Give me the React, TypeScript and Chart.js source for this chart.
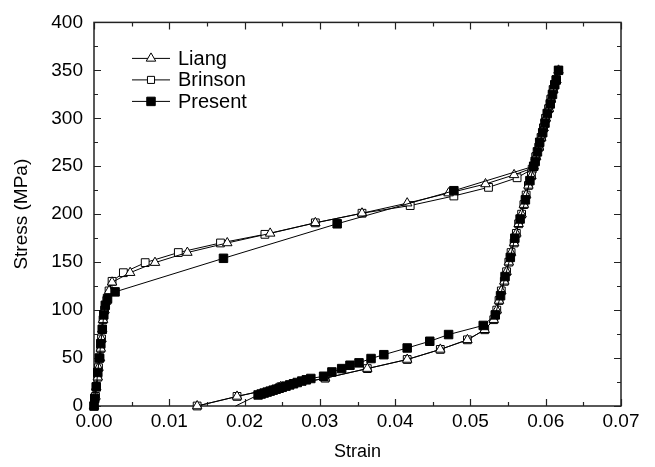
import React, { useEffect, useRef } from 'react';
import { Chart, registerables } from 'chart.js';

Chart.register(...registerables);

// ---------- axis ticks ----------
const xTickValues = [0, 0.01, 0.02, 0.03, 0.04, 0.05, 0.06, 0.07];
const xMinorTickValues = [0.005, 0.015, 0.025, 0.035, 0.045, 0.055, 0.065];
const yTickValues = [0, 50, 100, 150, 200, 250, 300, 350, 400];
const yMinorTickValues = [25, 75, 125, 175, 225, 275, 325, 375];

// ---------- shared segments (Liang & Brinson) ----------
const initialStrain = [0, 0.0002, 0.0003, 0.0005, 0.0006, 0.0008, 0.0009, 0.001, 0.0011, 0.0012, 0.0014, 0.0017, 0.002];
const initialStress = [0, 10, 20, 30, 40, 50, 60, 70, 80, 90, 100, 110, 120];

// elastic loading branch (250 -> 350 MPa)
const elasticUpStrain = [0.0587, 0.0591, 0.0594, 0.0597, 0.06, 0.0604, 0.0607, 0.061, 0.0614, 0.0617];
const elasticUpStress = [260, 270, 280, 290, 300, 310, 320, 330, 340, 350];

// elastic unloading branch (350 -> 90 MPa)
const elasticDownStrain = [0.0614, 0.061, 0.0607, 0.0604, 0.06, 0.0597, 0.0594, 0.0591, 0.0587, 0.0584, 0.0581, 0.0577, 0.0574, 0.0571, 0.0568, 0.0564, 0.0561, 0.0558, 0.0554, 0.0551, 0.0548, 0.0545, 0.0541, 0.0538, 0.0535, 0.0531];
const elasticDownStress = [340, 330, 320, 310, 300, 290, 280, 270, 260, 250, 240, 230, 220, 210, 200, 190, 180, 170, 160, 150, 140, 130, 120, 110, 100, 90];

// reverse transformation plateau (Liang & Brinson)
const lowerStrain = [0.0519, 0.0496, 0.046, 0.0416, 0.0363, 0.0307, 0.0248, 0.019, 0.0137];
const lowerStress = [79.5, 69, 59, 48.5, 39, 29, 20, 10, 0];

// ---------- Liang ----------
const liangUpperStrain = [0.0024, 0.0048, 0.0081, 0.0124, 0.0177, 0.0234, 0.0294, 0.0356, 0.0416, 0.0471, 0.052, 0.0558, 0.0582];
const liangUpperStress = [129, 139, 149.5, 160, 170, 180, 191, 201, 211.5, 222, 231.5, 241, 248];

// ---------- Brinson ----------
const brinsonUpperStrain = [0.0024, 0.0039, 0.0068, 0.0112, 0.0168, 0.0227, 0.0294, 0.0356, 0.042, 0.0478, 0.0524, 0.0562, 0.0582];
const brinsonUpperStress = [130, 139, 149.5, 160, 170, 179, 191, 201, 209, 219, 228, 238, 247];

// ---------- Present ----------
const presentLoadStrain = [0, 0.0001, 0.0003, 0.0005, 0.0007, 0.0009, 0.0011, 0.0013, 0.0015, 0.0018, 0.0028, 0.0172, 0.0323, 0.0478, 0.0584];
const presentLoadStress = [0, 8, 20, 35, 50, 65, 80, 95, 105, 112, 119, 154, 190, 224.5, 250];
const presentUpStrain = [0.0589, 0.0596, 0.0602, 0.0609, 0.0614, 0.0617];
const presentUpStress = [265, 285, 305, 325, 340, 350];
const presentDownStrain = [0.0612, 0.0606, 0.0599, 0.0592, 0.0586, 0.0579, 0.0573, 0.0566, 0.0559, 0.0553, 0.0546, 0.054, 0.0533];
const presentDownStress = [335, 315, 295, 275, 255, 235, 215, 195, 175, 155, 135, 115, 95];
const presentLowerStrain = [0.0517, 0.0471, 0.0446, 0.0416, 0.0385, 0.0368, 0.0352, 0.034, 0.0329, 0.0316, 0.0305, 0.0288, 0.0282, 0.0276, 0.027, 0.0265, 0.026, 0.0255, 0.025, 0.0246, 0.0242, 0.0238, 0.0234, 0.023, 0.0226, 0.0222, 0.0218, 0.0188];
const presentLowerStress = [84, 74.5, 67.5, 60.5, 53.5, 49.5, 45, 42.5, 39, 35.5, 31, 28.7, 27.3, 26, 24.5, 23.2, 22, 20.7, 19.5, 18.5, 17.5, 16.5, 15.5, 14.5, 13.5, 12.5, 11.5, 0];

const seriesNames = ['Liang', 'Brinson', 'Present'];

const zip = (xs: number[], ys: number[]) => xs.map((x, i) => ({ x, y: ys[i] }));

const liangData = zip(
  [...initialStrain, ...liangUpperStrain, ...elasticUpStrain, ...elasticDownStrain, ...lowerStrain],
  [...initialStress, ...liangUpperStress, ...elasticUpStress, ...elasticDownStress, ...lowerStress]
);
const brinsonData = zip(
  [...initialStrain, ...brinsonUpperStrain, ...elasticUpStrain, ...elasticDownStrain, ...lowerStrain],
  [...initialStress, ...brinsonUpperStress, ...elasticUpStress, ...elasticDownStress, ...lowerStress]
);
const presentData = zip(
  [...presentLoadStrain, ...presentUpStrain, ...presentDownStrain, ...presentLowerStrain],
  [...presentLoadStress, ...presentUpStress, ...presentDownStress, ...presentLowerStress]
);

const FONT = "'Liberation Sans', Arial, Helvetica, sans-serif";

function drawMarker(ctx: CanvasRenderingContext2D, style: string, x: number, y: number, r: number, fill: string) {
  ctx.beginPath();
  if (style === 'triangle') {
    const h = 1.5 * r;
    const e = Math.sqrt(3) * r;
    ctx.moveTo(x, y - h * 2 / 3);
    ctx.lineTo(x + e / 2, y + h / 3);
    ctx.lineTo(x - e / 2, y + h / 3);
    ctx.closePath();
  } else {
    const s = Math.SQRT1_2 * r;
    ctx.rect(x - s, y - s, 2 * s, 2 * s);
  }
  ctx.fillStyle = fill;
  ctx.fill();
  ctx.strokeStyle = '#000';
  ctx.lineWidth = 1;
  ctx.stroke();
}

const framePlugin = {
  id: 'frameTicks',
  beforeDatasetsDraw(chart: any) {
    const { ctx, chartArea } = chart;
    const { left, right, top, bottom } = chartArea;
    const xs = chart.scales.x;
    const ys = chart.scales.y;
    ctx.save();
    ctx.strokeStyle = '#222';
    ctx.lineWidth = 1.5;
    ctx.strokeRect(left, top, right - left, bottom - top);
    ctx.lineWidth = 1.2;
    const major = 7;
    const minor = 4;
    ctx.beginPath();
    const xt = (vals: number[], len: number) => {
      vals.forEach((v) => {
        const px = Math.round(xs.getPixelForValue(v)) + 0.5;
        ctx.moveTo(px, bottom);
        ctx.lineTo(px, bottom - len);
        ctx.moveTo(px, top);
        ctx.lineTo(px, top + len);
      });
    };
    const yt = (vals: number[], len: number) => {
      vals.forEach((v) => {
        const py = Math.round(ys.getPixelForValue(v)) + 0.5;
        ctx.moveTo(left, py);
        ctx.lineTo(left + len, py);
        ctx.moveTo(right, py);
        ctx.lineTo(right - len, py);
      });
    };
    xt(xTickValues, major);
    xt(xMinorTickValues, minor);
    yt(yTickValues, major);
    yt(yMinorTickValues, minor);
    ctx.stroke();
    ctx.restore();
  },
  afterDraw(chart: any) {
    const { ctx, chartArea } = chart;
    const styles = [
      { pointStyle: 'triangle', r: 5.5, fill: '#fff' },
      { pointStyle: 'rect', r: 5, fill: '#fff' },
      { pointStyle: 'rect', r: 6, fill: '#000' },
    ];
    ctx.save();
    const x0 = chartArea.left + 38;
    const y0 = chartArea.top + 36;
    const rowH = 21.5;
    seriesNames.forEach((name, i) => {
      const y = y0 + i * rowH;
      ctx.beginPath();
      ctx.strokeStyle = '#000';
      ctx.lineWidth = 1;
      ctx.moveTo(x0, y);
      ctx.lineTo(x0 + 38, y);
      ctx.stroke();
      drawMarker(ctx, styles[i].pointStyle, x0 + 19, y, styles[i].r, styles[i].fill);
      ctx.fillStyle = '#000';
      ctx.font = `20px ${FONT}`;
      ctx.textAlign = 'left';
      ctx.textBaseline = 'middle';
      ctx.fillText(name, x0 + 46, y + 1);
    });
    ctx.restore();
  },
};

export default function App() {
  const canvasRef = useRef<HTMLCanvasElement | null>(null);

  useEffect(() => {
    if (!canvasRef.current) return;
    Chart.defaults.font.family = FONT;
    Chart.defaults.color = '#000';
    const chart = new Chart(canvasRef.current, {
      type: 'scatter',
      data: {
        datasets: [
          {
            label: seriesNames[0],
            data: liangData,
            showLine: true,
            borderColor: '#000',
            borderWidth: 1,
            pointStyle: 'triangle',
            pointRadius: 5.5,
            pointBackgroundColor: '#fff',
            pointBorderColor: '#000',
            pointBorderWidth: 1,
            order: 1,
            clip: false,
          },
          {
            label: seriesNames[1],
            data: brinsonData,
            showLine: true,
            borderColor: '#000',
            borderWidth: 1,
            pointStyle: 'rect',
            pointRadius: 5.5,
            pointBackgroundColor: '#fff',
            pointBorderColor: '#000',
            pointBorderWidth: 1,
            order: 2,
            clip: false,
          },
          {
            label: seriesNames[2],
            data: presentData,
            showLine: true,
            borderColor: '#000',
            borderWidth: 1,
            pointStyle: 'rect',
            pointRadius: (c: any) => (c.dataIndex === presentData.length - 1 ? 0 : 6),
            pointBackgroundColor: '#000',
            pointBorderColor: '#000',
            pointBorderWidth: 1,
            order: 0,
            clip: false,
          },
        ],
      },
      options: {
        responsive: false,
        animation: false,
        events: [],
        layout: { padding: { top: 20, right: 34, left: 0, bottom: 0 } },
        plugins: { legend: { display: false }, tooltip: { enabled: false } },
        scales: {
          x: {
            type: 'linear',
            min: 0,
            max: 0.07,
            grid: { display: false, drawTicks: false },
            border: { display: false },
            afterBuildTicks: (s: any) => {
              s.ticks = xTickValues.map((v) => ({ value: v }));
            },
            afterFit: (s: any) => {
              s.height = 61;
            },
            ticks: {
              padding: 4,
              font: { size: 19 },
              color: '#000',
              maxRotation: 0,
              autoSkip: false,
              callback: (v: any) => Number(v).toFixed(2),
            },
            title: {
              display: true,
              text: 'Strain',
              font: { size: 18 },
              color: '#000',
              padding: { top: 0, bottom: 4 },
            },
          },
          y: {
            type: 'linear',
            min: 0,
            max: 400,
            grid: { display: false, drawTicks: false },
            border: { display: false },
            afterBuildTicks: (s: any) => {
              s.ticks = yTickValues.map((v) => ({ value: v }));
            },
            afterFit: (s: any) => {
              s.width = 94;
            },
            ticks: {
              padding: 11,
              font: { size: 19 },
              color: '#000',
              autoSkip: false,
              callback: (v: any) => String(v),
            },
            title: {
              display: true,
              text: 'Stress (MPa)',
              font: { size: 19 },
              color: '#000',
              padding: { top: 10, bottom: 0 },
            },
          },
        },
      },
      plugins: [framePlugin],
    });
    return () => chart.destroy();
  }, []);

  return (
    <div style={{ position: 'absolute', left: 0, top: 0, width: 655, height: 467, background: '#fff' }}>
      <canvas ref={canvasRef} width={655} height={467} style={{ display: 'block' }} />
    </div>
  );
}
